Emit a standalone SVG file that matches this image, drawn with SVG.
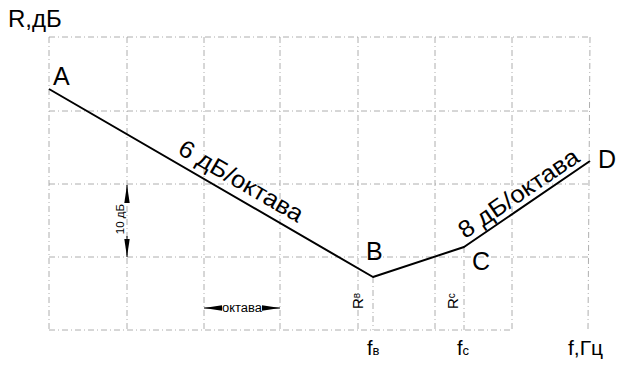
<svg xmlns="http://www.w3.org/2000/svg" width="618" height="368" viewBox="0 0 618 368">
<style>
text{font-family:"Liberation Sans",Arial,sans-serif;fill:#000}
.grid line{stroke:#9a9a9a;stroke-width:0.8;stroke-dasharray:6 3 1 3}
.lbl{font-size:25px}
.curve{fill:none;stroke:#000;stroke-width:2;stroke-linejoin:round}
.dim{stroke:#000;stroke-width:1}
</style>
<defs>
<marker id="arr" viewBox="0 0 18 6" refX="18" refY="3" markerWidth="18" markerHeight="6" markerUnits="userSpaceOnUse" orient="auto">
<path d="M0,0.3 L18,3 L0,5.7 Z" fill="#000"/>
</marker>
</defs>
<rect width="618" height="368" fill="#fff"/>
<g class="grid">
<line x1="49" y1="37" x2="590" y2="37"/>
<line x1="49" y1="111" x2="590" y2="111"/>
<line x1="49" y1="184" x2="590" y2="184"/>
<line x1="49" y1="257" x2="590" y2="257"/>
<line x1="49" y1="330" x2="510" y2="330"/>
<line x1="49" y1="37" x2="49" y2="330"/>
<line x1="127" y1="37" x2="127" y2="330"/>
<line x1="204" y1="37" x2="204" y2="330"/>
<line x1="280" y1="37" x2="280" y2="330"/>
<line x1="358" y1="37" x2="358" y2="330"/>
<line x1="435" y1="37" x2="435" y2="330"/>
<line x1="512" y1="37" x2="512" y2="330"/>
<line x1="590" y1="37" x2="588" y2="330"/>
<line x1="373" y1="277" x2="373" y2="330"/>
<line x1="464" y1="247" x2="464" y2="330"/>
</g>
<text x="8" y="27" font-size="24">R,дБ</text>
<g id="connectors">
<polyline class="curve" points="49,89 373,277 464,247 590,161"/>
</g>
<g id="A"><text class="lbl" x="53" y="85">A</text></g>
<g id="B"><text class="lbl" x="366" y="260">B</text></g>
<g id="C"><text class="lbl" x="472" y="270">C</text></g>
<g id="D"><text class="lbl" x="598" y="168">D</text></g>
<text font-size="24" text-anchor="middle" transform="translate(237,188) rotate(30)" textLength="140" lengthAdjust="spacingAndGlyphs">6 дБ/октава</text>
<text font-size="24" text-anchor="middle" transform="translate(523,200) rotate(-34)" textLength="140" lengthAdjust="spacingAndGlyphs">8 дБ/октава</text>
<g id="dim10">
<line class="dim" x1="127" y1="203" x2="127" y2="185" marker-end="url(#arr)"/>
<line class="dim" x1="127" y1="236" x2="127" y2="257" marker-end="url(#arr)"/>
<text font-size="11.5" text-anchor="middle" transform="translate(124,219) rotate(-90)">10 дБ</text>
</g>
<g id="dimOct">
<line class="dim" x1="222" y1="308" x2="204" y2="308" marker-end="url(#arr)"/>
<line class="dim" x1="262" y1="308" x2="280" y2="308" marker-end="url(#arr)"/>
<text font-size="12.5" x="242" y="312" text-anchor="middle" textLength="40" lengthAdjust="spacingAndGlyphs">октава</text>
</g>
<text font-size="15" transform="translate(363,309) rotate(-90)">R<tspan font-size="10" dy="-3">в</tspan></text>
<text font-size="15" transform="translate(458,309) rotate(-90)">R<tspan font-size="10" dy="-3">c</tspan></text>
<text font-size="20" x="367" y="355">f<tspan font-size="13">в</tspan></text>
<text font-size="20" x="457" y="355">f<tspan font-size="13">c</tspan></text>
<text font-size="21" x="568" y="355">f,Гц</text>
</svg>
